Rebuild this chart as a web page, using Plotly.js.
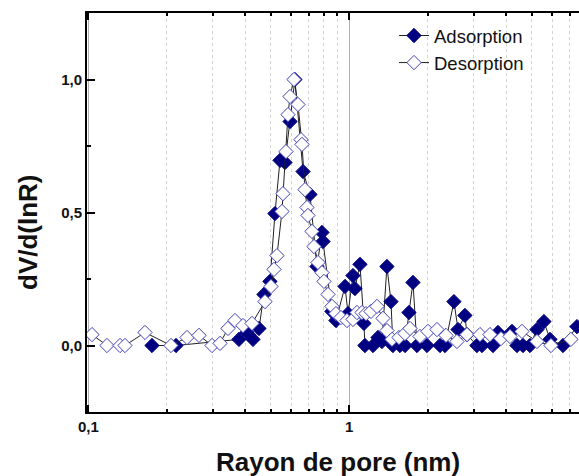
<!DOCTYPE html>
<html>
<head>
<meta charset="utf-8">
<script src="https://cdn.plot.ly/plotly-3.0.1.min.js"></script>
<style>
html,body{margin:0;padding:0;overflow:hidden;background:#fff;}
#chart{width:620px;height:476px;}
</style>
</head>
<body>
<div id="chart"></div>
<script>
// Adsorption (filled diamonds)
const adsX = [0.1754,0.2168,0.3778,0.4055,0.4276,0.4508,0.471,0.4966,0.519,0.5427,0.567,0.593,0.619,0.665,0.707,0.752,0.786,0.793,0.858,0.889,0.963,0.989,1.033,1.051,1.099,1.138,1.148,1.233,1.288,1.334,1.394,1.445,1.469,1.564,1.635,1.693,1.754,1.817,1.985,2.226,2.326,2.518,2.61,2.774,2.825,3.084,3.225,3.553,3.713,4.202,4.391,4.63,4.923,5.239,5.57,5.875,6.59,7.455];
const adsY = [0,0,0.023,0.049,0.023,0.064,0.192,0.241,0.496,0.696,0.688,0.842,1.0,0.654,0.568,0.297,0.425,0.391,0.128,0.094,0.222,0.12,0.263,0.214,0.305,0.083,0,0,0.03,0.015,0.297,0.165,0,0,0,0.124,0.237,0,0,0,0,0.165,0.06,0.113,0.041,0,0,0,0.049,0.053,0,0,0,0.06,0.09,0.023,0,0.071];
// Desorption (open diamonds)
const desX = [0.1033,0.1179,0.1323,0.1382,0.1649,0.2074,0.2389,0.2655,0.2979,0.3197,0.3428,0.3648,0.3915,0.4238,0.4753,0.5012,0.5147,0.5284,0.5522,0.557,0.5721,0.5823,0.5927,0.614,0.636,0.653,0.6588,0.6765,0.6885,0.6946,0.7196,0.7324,0.7587,0.786,0.8,0.8287,0.8584,0.8892,0.9294,0.9799,1.0332,1.0703,1.1186,1.1588,1.211,1.2768,1.3461,1.3946,1.4576,1.5502,1.6344,1.7086,1.8661,2.0023,2.1677,2.3478,2.5859,2.8249,3.1681,3.4604,3.8134,4.1286,4.5889,5.2384,5.9278,7.0678];
const desY = [0.041,0,0,0,0.049,0,0.03,0.038,0,0.008,0.064,0.094,0.075,0.083,0.165,0.222,0.286,0.338,0.504,0.571,0.729,0.868,0.936,1.0,0.906,0.774,0.756,0.586,0.519,0.489,0.429,0.372,0.312,0.274,0.241,0.192,0.147,0.12,0.105,0.094,0.098,0.124,0.124,0.12,0.128,0.147,0.102,0.056,0.023,0.03,0.045,0.064,0.034,0.053,0.06,0.038,0.015,0.041,0.041,0.041,0.026,0.034,0.053,0.015,0,0.023];

const xTitle = 'Rayon de pore (nm)';
const yTitle = 'dV/d(lnR)';
const names = ['Adsorption','Desorption'];

const traces = [
  {x: adsX, y: adsY, name: names[0], type: 'scatter', mode: 'lines+markers',
   line: {color: '#222', width: 1},
   marker: {symbol: 'diamond', size: 11, color: '#000080', line: {color: '#000080', width: 1}}},
  {x: desX, y: desY, name: names[1], type: 'scatter', mode: 'lines+markers',
   line: {color: '#222', width: 1},
   marker: {symbol: 'diamond', size: 11, color: '#ffffff', line: {color: '#4040b8', width: 1}}}
];

const bold = {family: 'Liberation Sans, Arial, sans-serif', size: 15, color: '#111', weight: 'bold'};

const layout = {
  width: 620, height: 476,
  margin: {l: 87, r: 10, t: 13, b: 64},
  paper_bgcolor: '#fff', plot_bgcolor: '#fff',
  separators: ', ',
  showlegend: true,
  legend: {x: (394-87)/523, y: 0.99, xanchor: 'left', yanchor: 'top', bgcolor: 'rgba(0,0,0,0)',
    font: {family: 'Liberation Sans, Arial, sans-serif', size: 18.5, color: '#111'}, tracegroupgap: 0},
  xaxis: {
    type: 'log', range: [-1.005, 0.999], dtick: 1,
    showline: true, linecolor: '#000', linewidth: 2, mirror: 'ticks',
    ticks: 'inside', ticklen: 7, tickwidth: 2, tickcolor: '#000',
    tickfont: bold, showgrid: true, gridcolor: '#b0b0b0', gridwidth: 1,
    zeroline: false,
    minor: {dtick: 'D1', ticks: 'inside', ticklen: 3, tickwidth: 2, tickcolor: '#000',
      showgrid: true, gridcolor: '#d2d2d2', griddash: 'dot', gridwidth: 1}
  },
  yaxis: {
    range: [-0.25, 1.25], dtick: 0.5, tick0: 0, tickformat: '.1f',
    showline: true, linecolor: '#000', linewidth: 2, mirror: false,
    ticks: 'inside', ticklen: 8, tickwidth: 2, tickcolor: '#000',
    tickfont: bold, showgrid: false, zeroline: false,
    minor: {dtick: 0.25, ticks: 'inside', ticklen: 4, tickwidth: 2, tickcolor: '#000', showgrid: false}
  },
  annotations: [
    {text: xTitle, xref: 'paper', yref: 'paper', x: (338-87)/523, y: -(462-412)/399, xanchor: 'center', yanchor: 'middle',
     showarrow: false, font: {family: 'Liberation Sans, Arial, sans-serif', size: 26, color: '#111', weight: 'bold'}},
    {text: yTitle, xref: 'paper', yref: 'paper', x: -(87-28)/523, y: (412-232)/399, xanchor: 'center', yanchor: 'middle',
     textangle: -90, showarrow: false, font: {family: 'Liberation Sans, Arial, sans-serif', size: 26, color: '#111', weight: 'bold'}}
  ]
};

Plotly.newPlot('chart', traces, layout, {displayModeBar: false, staticPlot: true});
</script>
</body>
</html>
